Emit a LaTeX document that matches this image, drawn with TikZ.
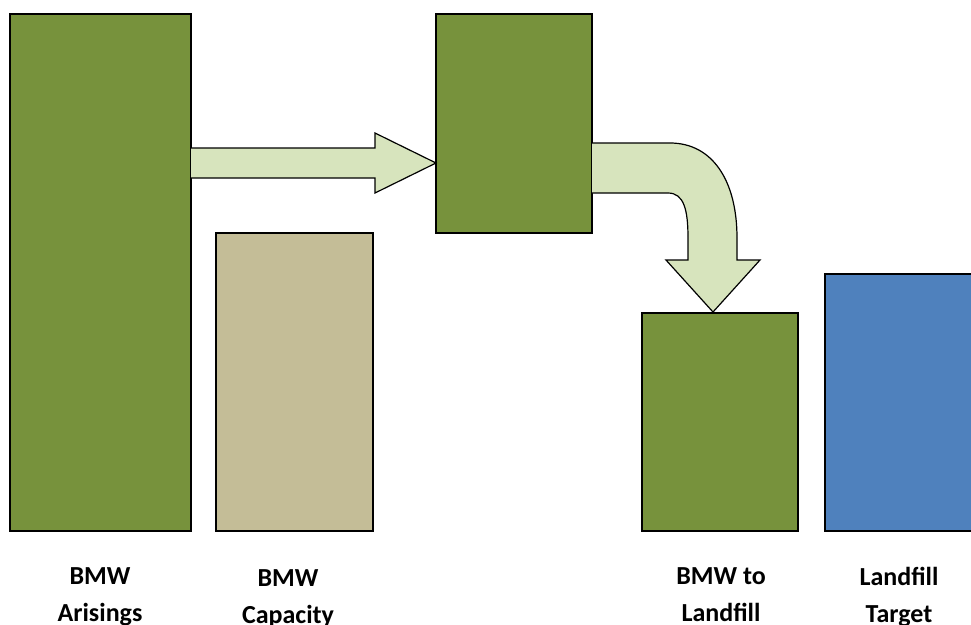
\documentclass[tikz,border=0pt]{standalone}
\usepackage{fontspec}
\setmainfont{Carlito}
\definecolor{dgreen}{HTML}{77923C}
\definecolor{tan}{HTML}{C4BD97}
\definecolor{blu}{HTML}{4F81BD}
\definecolor{lgreen}{HTML}{D7E4BD}
\begin{document}
\begin{tikzpicture}[x=1pt,y=-1pt,
  bar/.style={draw=black,line width=1.5pt},
  flow/.style={draw=black,line width=1.2pt,fill=lgreen,line join=miter},
  lbl/.style={font=\fontsize{26}{37}\selectfont\bfseries,align=center,anchor=base,inner sep=0}]
\useasboundingbox (0,0) rectangle (971,624);
\fill[white] (0,0) rectangle (971,624);
\draw[bar,fill=dgreen] (10,14) rectangle (191,531);
\node[inner sep=0] (arise) at (100.5,272.5) {};
\draw[bar,fill=tan] (216,233) rectangle (373,531);
\node[inner sep=0] (cap) at (294.5,382) {};
\draw[bar,fill=dgreen] (436,14) rectangle (592,233);
\node[inner sep=0] (mid) at (514,123.5) {};
\draw[bar,fill=dgreen] (642,313) rectangle (798,531);
\node[inner sep=0] (land) at (720,422) {};
\draw[bar,fill=blu] (825,274) rectangle (975,531);
\node[inner sep=0] (targ) at (900,402) {};
% straight arrow
\draw[flow] (191,148) -- (375,148) -- (375,133) -- (436,163) -- (375,193) -- (375,178) -- (191,178);
% bent arrow
\draw[flow] (592,143) -- (670,143) .. controls (712,143) and (737,180) .. (737,238) -- (737,260) -- (760,260) -- (713,312) -- (666,260) -- (688,260) -- (688,238) .. controls (688,210) and (684,193) .. (668,193) -- (592,193);
\node[lbl] (l1) at (100,621) {BMW\\Arisings};
\node[lbl] (l2) at (288,623) {BMW\\Capacity};
\node[lbl] (l3) at (721,621) {BMW to\\Landfill};
\node[lbl] (l4) at (899,622) {Landfill\\Target};
\end{tikzpicture}
\end{document}
